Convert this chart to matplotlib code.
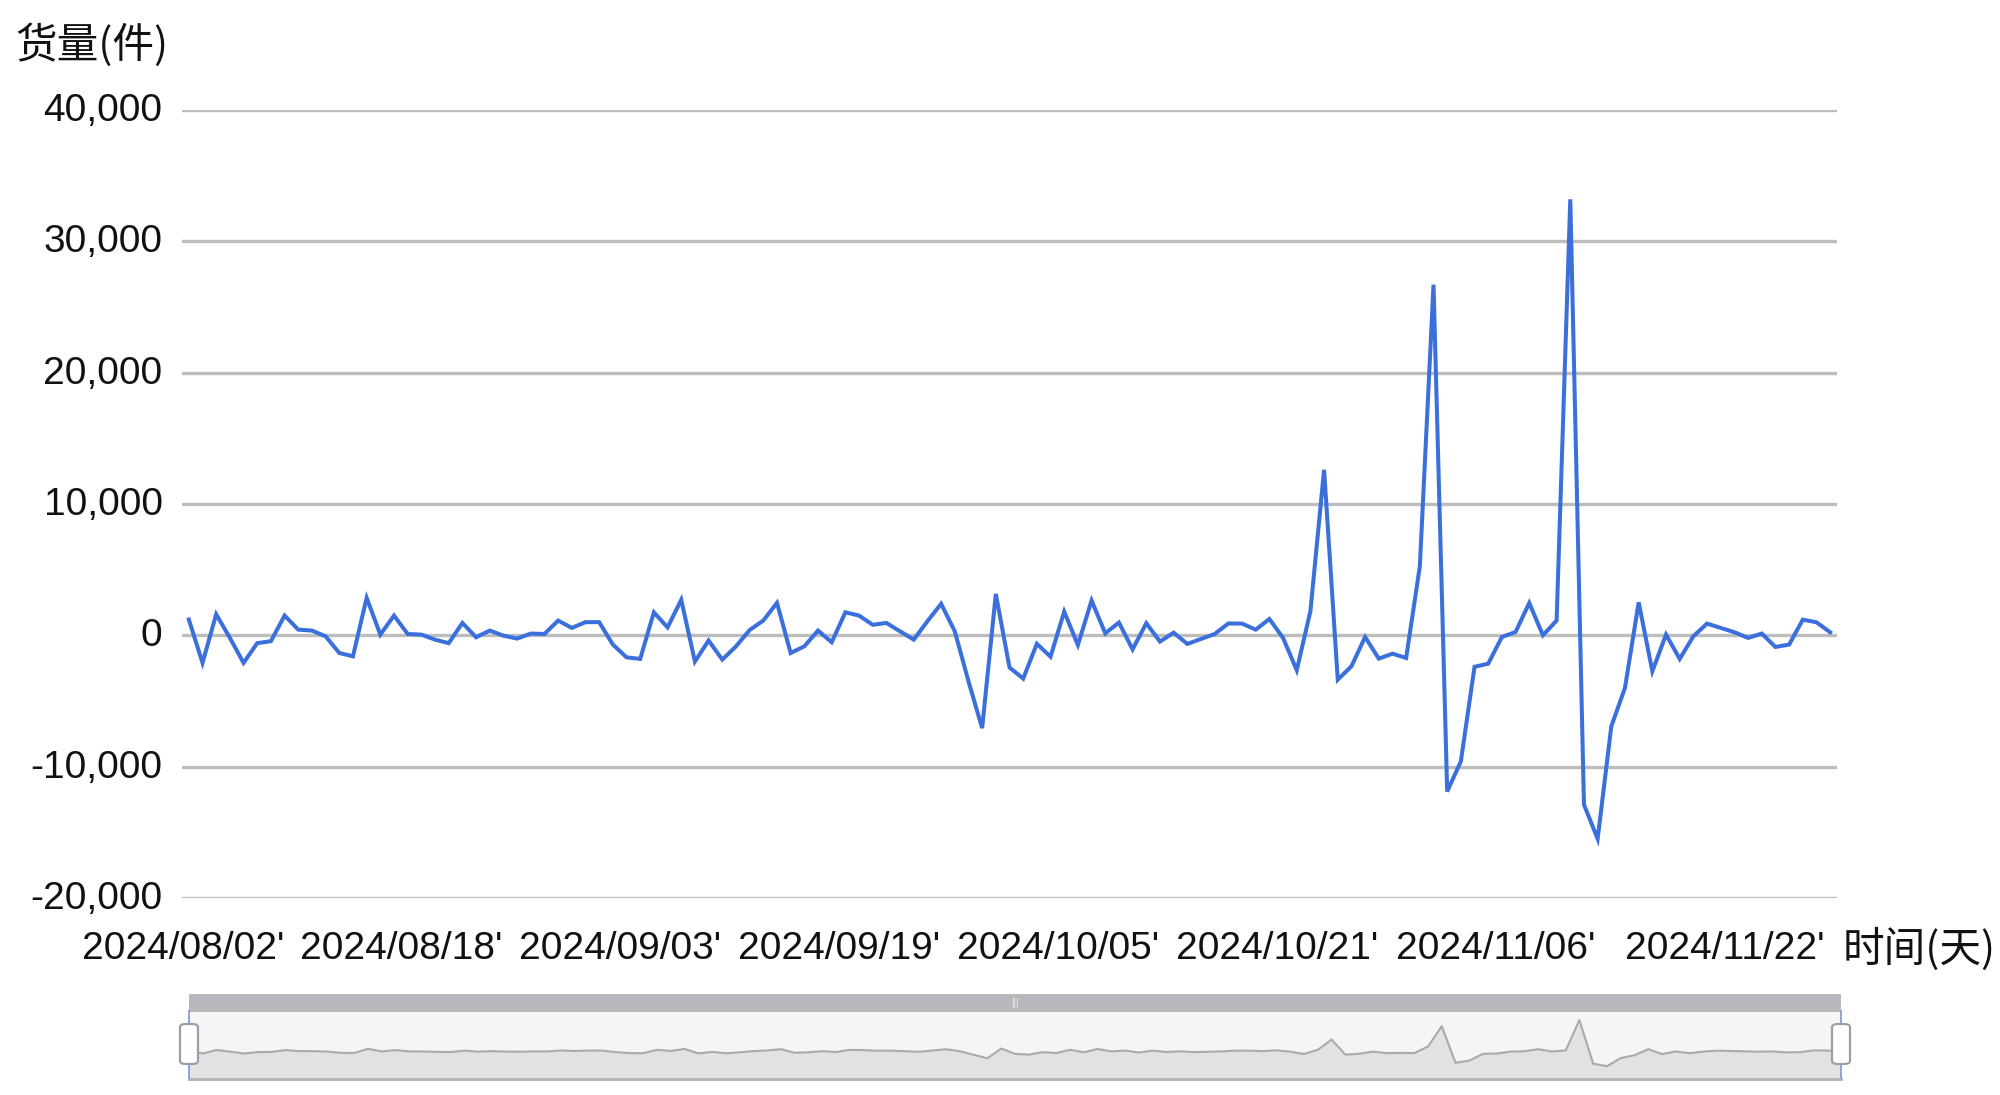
import datetime as dt
import matplotlib
matplotlib.use("Agg")
import matplotlib.pyplot as plt
import matplotlib.transforms as mtransforms
from matplotlib.ticker import FuncFormatter, FixedLocator
from matplotlib.patches import FancyBboxPatch, Rectangle

plt.rcParams['font.family'] = ['Liberation Sans', 'Noto Sans CJK SC', 'DejaVu Sans']

# 数据：每日货量变化 (件)
start_date = dt.date(2024, 8, 2)
values = [
    1200, -2100, 1600, -200, -2100, -600, -450, 1500, 430, 360,
    -80, -1350, -1600, 2850, 50, 1500, 100, 50, -330, -600,
    940, -150, 360, -30, -250, 130, 100, 1120, 560, 1000,
    1000, -700, -1680, -1800, 1750, 600, 2700, -2000, -400, -1850,
    -850, 400, 1120, 2470, -1350, -840, 360, -530, 1750, 1500,
    800, 940, 300, -330, 1070, 2400, 300, -3500, -7070, 3150,
    -2450, -3300, -650, -1630, 1800, -740, 2650, 150, 970, -1070,
    920, -480, 200, -660, -280, 100, 900, 890, 430, 1240,
    -200, -2660, 1830, 12600, -3380, -2360, -130, -1780, -1400, -1730,
    5250, 26700, -11900, -9600, -2400, -2160, -130, 250, 2460, 0,
    1120, 33200, -12900, -15500, -6930, -4000, 2510, -2740, 50, -1800,
    -70, 890, 560, 230, -200, 130, -890, -710, 1190, 990,
    230,
]
dates = [(start_date + dt.timedelta(days=i)).strftime("%Y/%m/%d") + "'" for i in range(len(values))]
x = list(range(len(values)))
y_ticks = [-20000, -10000, 0, 10000, 20000, 30000, 40000]
label_step = 16

line_color = '#3a6fdc'
grid_color = '#bdbdbd'

fig = plt.figure(figsize=(20, 10.95), dpi=100)
ax = fig.add_axes([0.091, 0.180, 0.8275, 0.7195])

ax.plot(x, values, color=line_color, lw=2.9, solid_joinstyle='miter')
ax.set_xlim(-0.5, len(values) - 0.5)
ax.set_ylim(-20000, 40000)
ax.yaxis.set_major_locator(FixedLocator(y_ticks))
ax.yaxis.set_major_formatter(FuncFormatter(lambda v, p: f"{int(v):,}"))
ax.grid(axis='y', color=grid_color, lw=2.4)
ax.set_axisbelow(True)
for s in ax.spines.values():
    s.set_visible(False)

tick_pos = list(range(0, len(values), label_step))
ax.set_xticks(tick_pos)
ax.set_xticklabels([dates[i] for i in tick_pos])
ax.tick_params(axis='x', length=0, pad=24, labelsize=28, labelcolor='#111111')
ax.tick_params(axis='y', length=0, pad=14, labelsize=28, labelcolor='#111111')

xlabels = ax.get_xticklabels()
for i, lab in enumerate(xlabels):
    dx = 4 if i == len(xlabels) - 1 else -6
    lab.set_transform(lab.get_transform() + mtransforms.ScaledTranslation(dx / 100, 0, fig.dpi_scale_trans))
shift_y = mtransforms.ScaledTranslation(0, 3 / 100, fig.dpi_scale_trans)
for lab in ax.get_yticklabels():
    lab.set_transform(lab.get_transform() + shift_y)

fig.text(0.0075, 0.959, '货量(件)', fontsize=30, va='center', ha='left',
         family=['Noto Sans CJK SC', 'DejaVu Sans'], color='#111111')
fig.text(0.9215, 0.133, '时间(天)', fontsize=30, va='center', ha='left',
         family=['Noto Sans CJK SC', 'DejaVu Sans'], color='#111111')

# 底部 dataZoom 滑块
sl_left, sl_right = 189 / 2000, 1841 / 2000
body = fig.add_axes([sl_left, 1 - 1079 / 1095, sl_right - sl_left, 69 / 1095])
body.set_facecolor('#f5f5f5')
body.fill_between(x, values, -30000, color='#e2e2e2', lw=0)
body.plot(x, values, color='#aaaaaa', lw=1.5)
body.set_xlim(0, len(values) - 1)
body.set_ylim(-29000, 43800)
body.set_xticks([])
body.set_yticks([])
for s in body.spines.values():
    s.set_visible(False)
body.spines['bottom'].set_visible(True)
body.spines['bottom'].set_color('#b0b2b8')
body.spines['bottom'].set_linewidth(2)

top_bar = fig.add_axes([sl_left, 1 - 1012 / 1095, sl_right - sl_left, 18 / 1095])
top_bar.set_facecolor('#b6b8bc')
top_bar.set_xticks([])
top_bar.set_yticks([])
for s in top_bar.spines.values():
    s.set_visible(False)
top_bar.text(0.5, 0.5, '|||', ha='center', va='center', fontsize=7, color='#f0f0f0',
             transform=top_bar.transAxes)

for hx in (sl_left, sl_right):
    fig.add_artist(Rectangle((hx - 0.0006, 1 - 1079 / 1095), 0.0012, 69 / 1095,
                             transform=fig.transFigure, color='#8fa3d6', lw=0))
    fig.add_artist(FancyBboxPatch((hx - 0.0045, 1 - 1064 / 1095), 0.009, 40 / 1095,
                                  boxstyle='round,pad=0,rounding_size=0.003',
                                  transform=fig.transFigure, facecolor='white',
                                  edgecolor='#9aa0aa', lw=1.6))

fig.savefig('out.png', dpi=100)
